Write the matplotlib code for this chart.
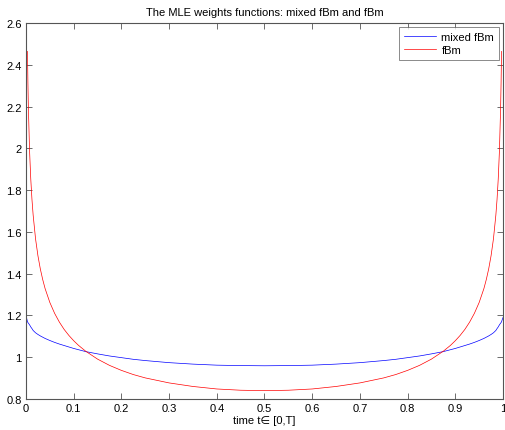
import numpy as np
import matplotlib
matplotlib.use('Agg')
import matplotlib.pyplot as plt

# values
t = [0.0, 0.0031, 0.004, 0.005, 0.0075, 0.01, 0.0125, 0.015, 0.02, 0.025, 0.03, 0.035,
     0.04, 0.05, 0.06, 0.07, 0.08, 0.09, 0.1, 0.11, 0.125, 0.15, 0.175, 0.2, 0.225,
     0.25, 0.3, 0.35, 0.4, 0.45, 0.5,
     0.55, 0.6, 0.65, 0.7, 0.75, 0.775, 0.8, 0.825, 0.85, 0.875, 0.89, 0.9, 0.91,
     0.92, 0.93, 0.94, 0.95, 0.96, 0.965, 0.97, 0.975, 0.98, 0.985, 0.9875, 0.99,
     0.9925, 0.995, 0.996, 0.9969, 1.0]
mixed_fbm = [1.200, 1.170, 1.166, 1.163, 1.155, 1.145, 1.137, 1.128, 1.117, 1.109, 1.102, 1.096,
             1.090, 1.080, 1.071, 1.063, 1.056, 1.049, 1.042, 1.036, 1.027, 1.016, 1.006, 0.998, 0.990,
             0.984, 0.974, 0.967, 0.962, 0.960, 0.959,
             0.960, 0.962, 0.967, 0.974, 0.984, 0.990, 0.998, 1.006, 1.016, 1.027, 1.036, 1.042, 1.049,
             1.056, 1.063, 1.071, 1.080, 1.090, 1.096, 1.102, 1.109, 1.117, 1.128, 1.137, 1.145,
             1.155, 1.163, 1.166, 1.170, 1.190]
fbm_t = t[1:-1]
fbm = [2.464, 2.316, 2.193, 1.987, 1.853, 1.755, 1.680, 1.567, 1.486, 1.423, 1.372,
       1.329, 1.262, 1.210, 1.168, 1.133, 1.104, 1.079, 1.057, 1.029, 0.991, 0.961, 0.937, 0.917,
       0.901, 0.877, 0.860, 0.848, 0.842, 0.840,
       0.842, 0.848, 0.860, 0.877, 0.901, 0.917, 0.937, 0.961, 0.991, 1.029, 1.057, 1.079, 1.104,
       1.133, 1.168, 1.210, 1.262, 1.329, 1.372, 1.423, 1.486, 1.567, 1.680, 1.755, 1.853,
       1.987, 2.193, 2.316, 2.464]

plt.rcParams['font.family'] = ['Liberation Sans', 'DejaVu Sans']
plt.rcParams['font.size'] = 8

fig = plt.figure(figsize=(5.06, 4.31), dpi=100)
ax = fig.add_axes([26 / 506, 31 / 431, 477 / 506, 376 / 431])
ax.plot(t, mixed_fbm, color='#0000ff', lw=0.5, label='mixed fBm')
ax.plot(fbm_t, fbm, color='#ff0000', lw=0.5, label='fBm')

ax.set_xlim(0, 1)
ax.set_ylim(0.8, 2.6)
ax.set_xticks(np.arange(0, 1.01, 0.1))
ax.set_xticklabels(['0', '0.1', '0.2', '0.3', '0.4', '0.5', '0.6', '0.7', '0.8', '0.9', '1'])
ax.set_yticks(np.arange(0.8, 2.61, 0.2))
ax.set_yticklabels(['0.8', '1', '1.2', '1.4', '1.6', '1.8', '2', '2.2', '2.4', '2.6'])
ax.tick_params(direction='in', top=True, right=True, length=4, width=0.6,
               color='#555555', labelsize=8, pad=3)
for s in ax.spines.values():
    s.set_color('#555555')
    s.set_linewidth(0.8)

ax.set_title('The MLE weights functions: mixed fBm and fBm', fontsize=8, pad=6)
ax.set_xlabel('time t\u2208 [0,T]', fontsize=8, labelpad=1)

leg = ax.legend(loc='upper right', fancybox=False, fontsize=8, handlelength=2.9,
                borderaxespad=0.4, handletextpad=0.5, labelspacing=0.3,
                borderpad=0.4)
leg.get_frame().set_edgecolor('#555555')
leg.get_frame().set_linewidth(0.6)

plt.savefig('out.png', dpi=100)
